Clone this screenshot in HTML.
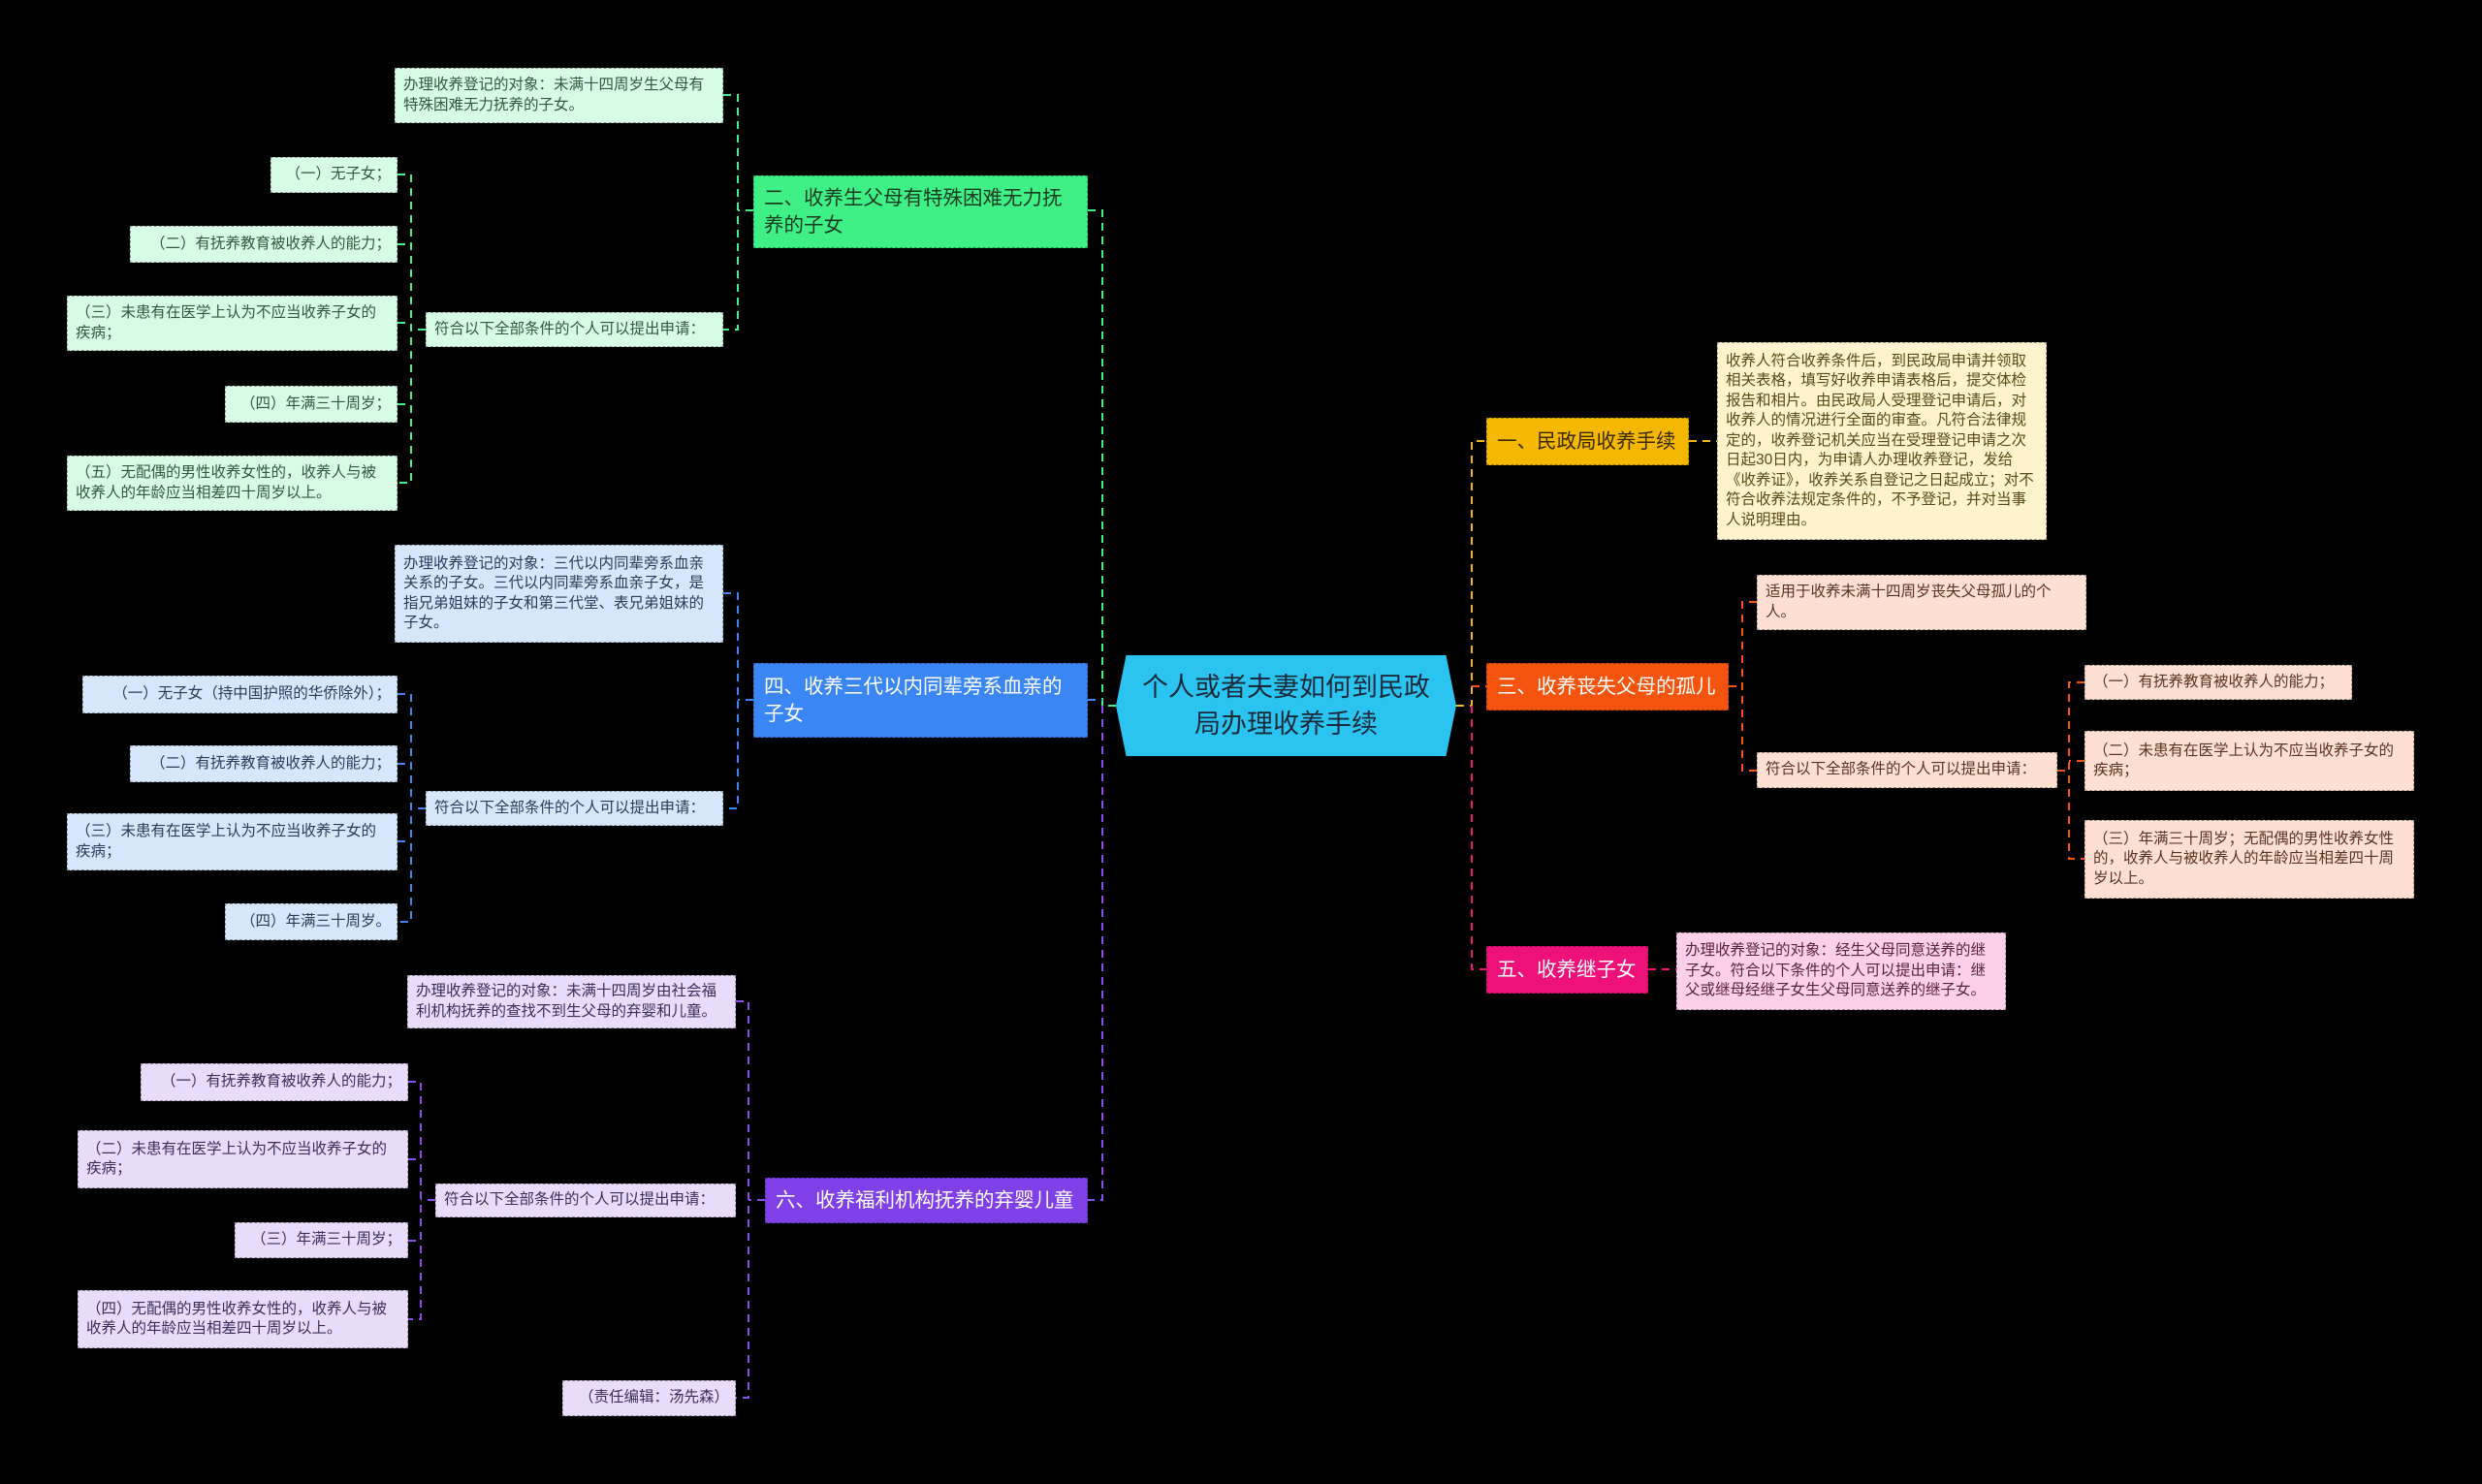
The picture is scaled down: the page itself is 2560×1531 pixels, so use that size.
<!DOCTYPE html>
<html><head><meta charset="utf-8">
<style>
body{margin:0;background:#000;width:2560px;height:1531px;overflow:hidden;position:relative;font-family:"Liberation Sans","Noto Sans CJK SC",sans-serif;}
.b{position:absolute;box-sizing:border-box;border:1.5px dashed rgba(0,0,0,0.35);font-size:15.5px;line-height:20.5px;padding:0 6px 0 8px;display:flex;align-items:center;color:#333;}
.n{white-space:nowrap;overflow:visible}
.m{font-size:20.5px;line-height:28px;padding:0 8px 0 10px;}
.g{background:#d8fbe6;color:#2d5a3d}
.bl{background:#d6e6fb;color:#2a3c5a}
.p{background:#e8dcfa;color:#3d2d5a}
.y{background:#fdf3cc;color:#5a4a1a}
.o{background:#fde0d2;color:#5a3322}
.k{background:#fbd0e8;color:#5a2240}
svg{position:absolute;left:0;top:0}
</style></head><body>
<svg width="2560" height="1531" fill="none" stroke-width="2" stroke-dasharray="8,6">
<path d="M1151 728 H1137 M1122 217 H1137 V728" stroke="#3ef086"/>
<path d="M1122 722 H1137" stroke="#3a86f5"/>
<path d="M1137 728 V1238 H1122" stroke="#8b4cf0"/>
<path d="M1502 728 H1518 V455 H1533" stroke="#f5b800"/>
<path d="M1518 708 H1533" stroke="#f5540f"/>
<path d="M1518 728 V1000 H1533" stroke="#ee1177"/>
<path d="M777 217 H761 M746 98 H761 V340 H746" stroke="#3ef086"/>
<path d="M439 340 H424 M410 180 H424 V498 H410 M410 252 H424 M410 333 H424 M410 417 H424" stroke="#3ef086"/>
<path d="M777 722 H761 M746 612 H761 V834 H746" stroke="#3a86f5"/>
<path d="M439 834 H424 M410 716 H424 V951 H410 M410 788 H424 M410 868 H424" stroke="#3a86f5"/>
<path d="M789 1238 H772 M759 1033 H772 V1442 H759" stroke="#8b4cf0"/>
<path d="M449 1238 H434 M421 1116 H434 V1361 H421 M421 1196 H434 M421 1280 H434" stroke="#8b4cf0"/>
<path d="M1742 455 H1771" stroke="#f5b800"/>
<path d="M1783 708 H1797 M1812 621 H1797 V795 H1812" stroke="#f5540f"/>
<path d="M2122 795 H2134 M2150 704 H2134 V886 H2150 M2150 785 H2134" stroke="#f5540f"/>
<path d="M1700 1000 H1729" stroke="#ee1177"/>
</svg>

<div style="position:absolute;left:1151px;top:676px;width:351px;height:104px;background:#2bc4f0;clip-path:polygon(3% 0,97% 0,100% 50%,97% 100%,3% 100%,0 50%);display:flex;align-items:center;justify-content:center;text-align:center;font-size:27px;line-height:38px;color:#1a2a3a;padding:0 22px;box-sizing:border-box">个人或者夫妻如何到民政局办理收养手续</div>

<div class="b m n" style="left:1533px;top:431px;width:209px;height:49px;background:#f5b800;color:#3a2a00">一、民政局收养手续</div>
<div class="b y" style="left:1771px;top:353px;width:340px;height:204px;">收养人符合收养条件后，到民政局申请并领取相关表格，填写好收养申请表格后，提交体检报告和相片。由民政局人受理登记申请后，对收养人的情况进行全面的审查。凡符合法律规定的，收养登记机关应当在受理登记申请之次日起30日内，为申请人办理收养登记，发给《收养证》，收养关系自登记之日起成立；对不符合收养法规定条件的，不予登记，并对当事人说明理由。</div>
<div class="b m n" style="left:1533px;top:684px;width:250px;height:49px;background:#f5540f;color:#fff">三、收养丧失父母的孤儿</div>
<div class="b o" style="left:1812px;top:593px;width:340px;height:57px;">适用于收养未满十四周岁丧失父母孤儿的个人。</div>
<div class="b o n" style="left:1812px;top:776px;width:310px;height:37px;">符合以下全部条件的个人可以提出申请：</div>
<div class="b o n" style="left:2150px;top:686px;width:276px;height:36px;">（一）有抚养教育被收养人的能力；</div>
<div class="b o" style="left:2150px;top:754px;width:340px;height:62px;">（二）未患有在医学上认为不应当收养子女的疾病；</div>
<div class="b o" style="left:2150px;top:846px;width:340px;height:81px;">（三）年满三十周岁；无配偶的男性收养女性的，收养人与被收养人的年龄应当相差四十周岁以上。</div>
<div class="b m n" style="left:1533px;top:976px;width:167px;height:49px;background:#ee1177;color:#fff">五、收养继子女</div>
<div class="b k" style="left:1729px;top:962px;width:340px;height:80px;">办理收养登记的对象：经生父母同意送养的继子女。符合以下条件的个人可以提出申请：继父或继母经继子女生父母同意送养的继子女。</div>

<div class="b m" style="left:777px;top:181px;width:345px;height:75px;background:#3ef086;color:#1a3a22">二、收养生父母有特殊困难无力抚养的子女</div>
<div class="b g" style="left:407px;top:70px;width:339px;height:57px;">办理收养登记的对象：未满十四周岁生父母有特殊困难无力抚养的子女。</div>
<div class="b g n" style="left:439px;top:322px;width:307px;height:36px;">符合以下全部条件的个人可以提出申请：</div>
<div class="b g n" style="left:279px;top:162px;width:131px;height:37px;justify-content:flex-end">（一）无子女；</div>
<div class="b g n" style="left:134px;top:233px;width:276px;height:38px;justify-content:flex-end">（二）有抚养教育被收养人的能力；</div>
<div class="b g" style="left:69px;top:305px;width:341px;height:57px;">（三）未患有在医学上认为不应当收养子女的疾病；</div>
<div class="b g n" style="left:232px;top:398px;width:178px;height:38px;justify-content:flex-end">（四）年满三十周岁；</div>
<div class="b g" style="left:69px;top:470px;width:341px;height:57px;">（五）无配偶的男性收养女性的，收养人与被收养人的年龄应当相差四十周岁以上。</div>

<div class="b m" style="left:777px;top:684px;width:345px;height:77px;background:#3a86f5;color:#fff">四、收养三代以内同辈旁系血亲的子女</div>
<div class="b bl" style="left:407px;top:562px;width:339px;height:101px;">办理收养登记的对象：三代以内同辈旁系血亲关系的子女。三代以内同辈旁系血亲子女，是指兄弟姐妹的子女和第三代堂、表兄弟姐妹的子女。</div>
<div class="b bl n" style="left:439px;top:816px;width:307px;height:36px;">符合以下全部条件的个人可以提出申请：</div>
<div class="b bl n" style="left:85px;top:697px;width:325px;height:39px;justify-content:flex-end">（一）无子女（持中国护照的华侨除外）；</div>
<div class="b bl n" style="left:134px;top:769px;width:276px;height:38px;justify-content:flex-end">（二）有抚养教育被收养人的能力；</div>
<div class="b bl" style="left:69px;top:839px;width:341px;height:59px;">（三）未患有在医学上认为不应当收养子女的疾病；</div>
<div class="b bl n" style="left:232px;top:932px;width:178px;height:38px;justify-content:flex-end">（四）年满三十周岁。</div>

<div class="b m n" style="left:789px;top:1215px;width:333px;height:47px;background:#8040e8;color:#fff">六、收养福利机构抚养的弃婴儿童</div>
<div class="b p" style="left:420px;top:1006px;width:339px;height:55px;">办理收养登记的对象：未满十四周岁由社会福利机构抚养的查找不到生父母的弃婴和儿童。</div>
<div class="b p n" style="left:449px;top:1221px;width:310px;height:35px;">符合以下全部条件的个人可以提出申请：</div>
<div class="b p n" style="left:145px;top:1097px;width:276px;height:39px;justify-content:flex-end">（一）有抚养教育被收养人的能力；</div>
<div class="b p" style="left:80px;top:1166px;width:341px;height:60px;">（二）未患有在医学上认为不应当收养子女的疾病；</div>
<div class="b p n" style="left:242px;top:1261px;width:179px;height:37px;justify-content:flex-end">（三）年满三十周岁；</div>
<div class="b p" style="left:80px;top:1331px;width:341px;height:60px;">（四）无配偶的男性收养女性的，收养人与被收养人的年龄应当相差四十周岁以上。</div>
<div class="b p n" style="left:580px;top:1424px;width:179px;height:37px;justify-content:flex-end">（责任编辑：汤先森）</div>
</body></html>
